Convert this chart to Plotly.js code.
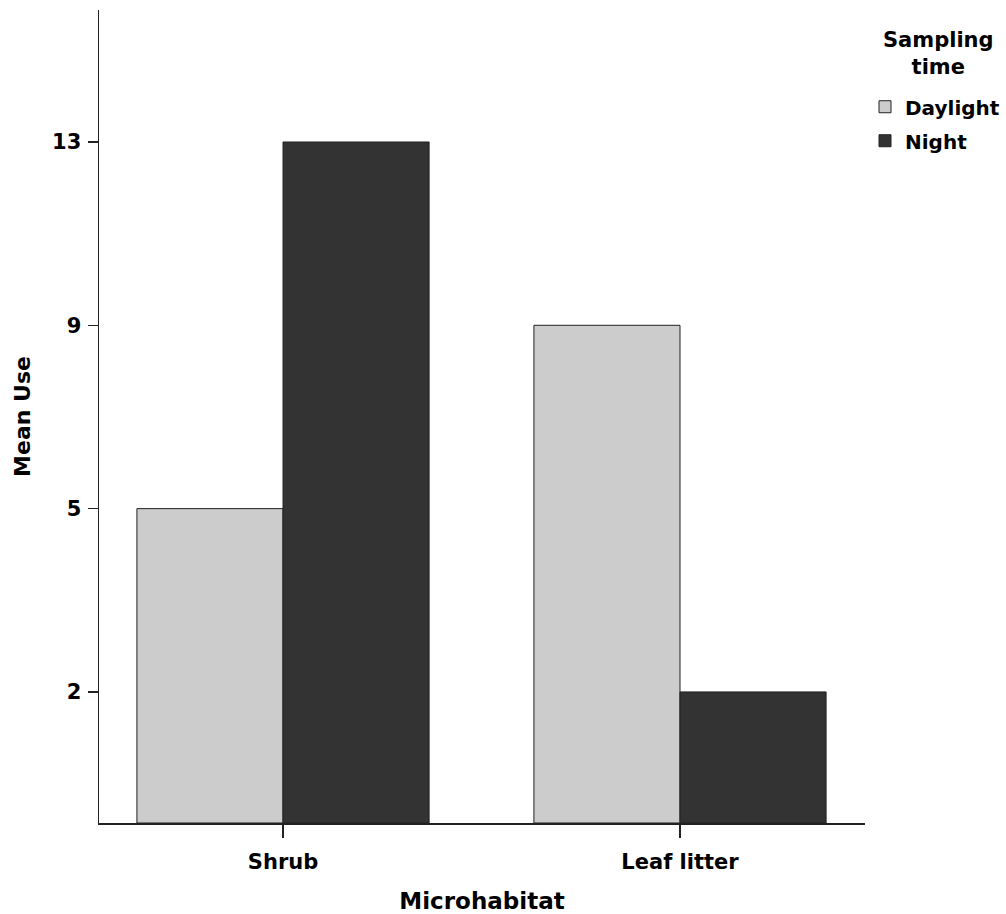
<!DOCTYPE html>
<html>
<head>
<meta charset="utf-8">
<script src="https://cdn.plot.ly/plotly-3.0.1.min.js"></script>
<style>html,body{margin:0;padding:0;background:#fff;}#chart{width:1006px;height:914px;}</style>
</head>
<body>
<div id="chart"></div>
<script>
// ---- data ----
const categories = ['Shrub', 'Leaf litter'];
const seriesNames = ['Daylight', 'Night'];
const daylight = [5, 9];
const night = [13, 2];
const yTickLabels = [2, 5, 9, 13];   // evenly spaced (ordinal) tick labels on the y axis
const legendTitle = 'Sampling<br>time';

// ---- styling ----
const colors = ['#cccccc', '#333333'];
const axisPad = 0.715;   // space below the first tick
const FONT = 'DejaVu Sans';

// values sit on evenly spaced tick positions
const tickPos = yTickLabels.map((_, i) => i + axisPad);
const toPos = v => yTickLabels.indexOf(v) + axisPad;

const series = [daylight, night];
const traces = series.map((vals, k) => ({
  type: 'bar',
  name: seriesNames[k],
  legendgroup: 'g' + k,
  x: categories,
  y: vals.map(toPos),
  customdata: vals,
  hovertemplate: '%{x}: %{customdata}<extra>' + seriesNames[k] + '</extra>',
  marker: {color: colors[k], line: {color: '#222222', width: 1}}
}));

const layout = {
  width: 1006, height: 914,
  margin: {l: 99, r: 141, t: 10, b: 91, autoexpand: false},
  paper_bgcolor: '#ffffff', plot_bgcolor: '#ffffff',
  barmode: 'group', bargap: 0.264, bargroupgap: 0,
  font: {family: FONT, color: '#000', size: 20, weight: 'bold'},
  showlegend: true,
  legend: {
    x: 1.0, xanchor: 'left', y: 0.905, yanchor: 'top',
    bgcolor: 'rgba(0,0,0,0)',
    font: {family: FONT, size: 20, weight: 'bold', color: '#000'},
    tracegroupgap: 5,
    itemwidth: 30
  },
  annotations: [{
    text: legendTitle, xref: 'paper', yref: 'paper',
    x: 1.0966, y: 0.946, xanchor: 'center', yanchor: 'middle',
    align: 'center', showarrow: false,
    font: {family: FONT, size: 21, weight: 'bold', color: '#000'}
  }],
  xaxis: {
    type: 'category',
    range: [-0.4635, 1.466],
    showline: true, linecolor: '#222', linewidth: 1.5,
    ticks: 'outside', ticklen: 13, tickcolor: '#222', tickwidth: 1.5,
    ticklabelstandoff: 6,
    showgrid: false, zeroline: false,
    tickfont: {family: FONT, size: 21, weight: 'bold', color: '#000'},
    title: {text: 'Microhabitat', standoff: 24, font: {family: FONT, size: 23, weight: 'bold', color: '#000'}}
  },
  yaxis: {
    range: [0, 3 + 2 * axisPad + 0.005],
    tickmode: 'array', tickvals: tickPos, ticktext: yTickLabels.map(String),
    showline: true, linecolor: '#222', linewidth: 1.5,
    ticks: 'outside', ticklen: 10, tickcolor: '#222', tickwidth: 1.5,
    ticklabelstandoff: 2,
    showgrid: false, zeroline: false,
    tickfont: {family: FONT, size: 21, weight: 'bold', color: '#000'},
    title: {text: 'Mean Use', standoff: 15, font: {family: FONT, size: 22, weight: 'bold', color: '#000'}}
  }
};

Plotly.newPlot('chart', traces, layout, {displayModeBar: false, staticPlot: true});
</script>
</body>
</html>
